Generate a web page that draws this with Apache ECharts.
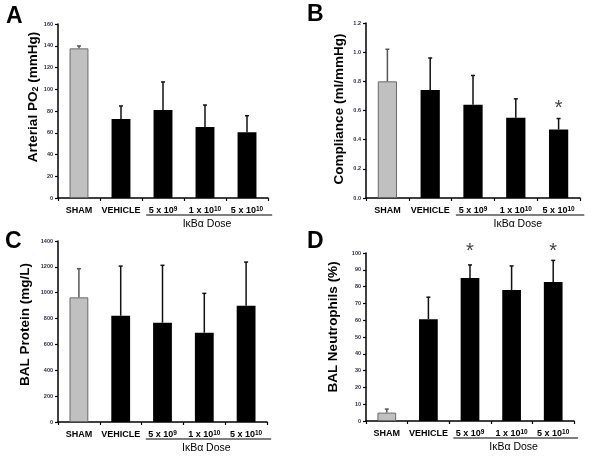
<!DOCTYPE html>
<html><head><meta charset="utf-8">
<script src="https://cdn.jsdelivr.net/npm/echarts@6/dist/echarts.min.js"></script>
<style>html,body{margin:0;padding:0;background:#fff}#c{width:600px;height:460px}</style>
</head><body><div id="c"></div>
<script>
// ---- data ----
const categories = ['SHAM', 'VEHICLE', '5 x 10^9', '1 x 10^10', '5 x 10^10'];
const doseLabel = 'IκBα Dose';
const panelLetters = ['A', 'B', 'C', 'D'];
const yTitles = ['Arterial PO{sub|2} (mmHg)', 'Compliance (ml/mmHg)', 'BAL Protein (mg/L)', 'BAL Neutrophils (%)'];
const poMean = [137.6, 72.6, 80.9, 65.3, 60.4];
const poErrTop = [139.8, 84.6, 106.7, 85.5, 75.7];
const complianceMean = [0.80, 0.74, 0.64, 0.55, 0.47];
const complianceErrTop = [1.02, 0.96, 0.84, 0.68, 0.545];
const proteinMean = [964, 822, 768, 691, 900];
const proteinErrTop = [1186, 1206, 1212, 995, 1237];
const neutroMean = [5.0, 60.6, 85.1, 78.0, 82.8];
const neutroErrTop = [7.1, 73.7, 92.9, 92.3, 95.6];
const poStars = [];
const complianceStars = [[4, 0.645]];
const proteinStars = [];
const neutroStars = [[2, 104], [4, 104]];
const yMax = [160, 1.2, 1400, 100];
const yStep = [20, 0.2, 200, 10];
const yDecimals = [0, 1, 0, 0];

// ---- layout / style ----
const means = [poMean, complianceMean, proteinMean, neutroMean];
const errTops = [poErrTop, complianceErrTop, proteinErrTop, neutroErrTop];
const stars = [poStars, complianceStars, proteinStars, neutroStars];
const grids = [
  {left: 58, top: 24, width: 210, height: 174},
  {left: 366, top: 23, width: 214, height: 175},
  {left: 58, top: 241, width: 209, height: 181},
  {left: 366, top: 253, width: 208, height: 168}
];
const nameGaps = [12.5, 20, 26, 26];
const nameShift = [28, 3, 14, 20];
const letterPos = [[6, 16.5], [307, 15], [5, 242], [307, 241.5]];
const FONT = '"Liberation Sans", Arial, Helvetica, sans-serif';

const chart = echarts.init(document.getElementById('c'), null, {renderer: 'canvas'});

function errRender(params, api) {
  const x = api.value(0), m = api.value(1), t = api.value(2);
  const p1 = api.coord([x, m]), p2 = api.coord([x, t]);
  const col = x === 0 ? '#555' : '#111';
  return {type: 'group', children: [
    {type: 'line', shape: {x1: p1[0], y1: p1[1], x2: p2[0], y2: p2[1]}, style: {stroke: col, lineWidth: 1.5}},
    {type: 'line', shape: {x1: p2[0] - 2, y1: p2[1], x2: p2[0] + 2, y2: p2[1]}, style: {stroke: col, lineWidth: 1.5}}
  ]};
}
function starRender(params, api) {
  const p = api.coord([api.value(0), api.value(1)]);
  return {type: 'text', style: {text: '*', x: p[0], y: p[1] + 5, fill: '#444', font: '20px ' + FONT, textAlign: 'center', textVerticalAlign: 'middle'}};
}

const xAxes = [], yAxes = [], series = [];
for (let i = 0; i < 4; i++) {
  xAxes.push({
    type: 'category', gridIndex: i, data: categories,
    axisLine: {lineStyle: {color: '#000', width: 1.5}},
    axisTick: {show: true, length: 3, lineStyle: {color: '#000', width: 1.2}},
    axisLabel: {
      interval: 0, margin: 8, color: '#000', fontSize: 9, fontWeight: 'bold', fontFamily: FONT,
      formatter: v => v.replace(/\^(\d+)/, '{s|$1}'),
      rich: {s: {fontSize: 6.5, fontWeight: 'bold', fontFamily: FONT, color: '#000', verticalAlign: 'top', lineHeight: 6}}
    }
  });
  yAxes.push({
    type: 'value', gridIndex: i, min: 0, max: yMax[i], interval: yStep[i],
    splitLine: {show: false},
    axisLine: {show: true, lineStyle: {color: '#000', width: 1.5}},
    axisTick: {show: true, length: 3, lineStyle: {color: '#000', width: 1.2}},
    axisLabel: {margin: 5, fontSize: 5.5, fontWeight: 'bold', color: '#2b3040', fontFamily: FONT,
      formatter: v => v.toFixed(yDecimals[i])},
    name: yTitles[i], nameLocation: 'middle', nameGap: nameGaps[i],
    nameTextStyle: {fontSize: 13.5, fontWeight: 'bold', color: '#000', fontFamily: FONT,
      padding: [0, 0, 0, nameShift[i]],
      rich: {sub: {fontSize: 9, fontWeight: 'bold', color: '#000', fontFamily: FONT, verticalAlign: 'bottom', lineHeight: 9}}}
  });
  series.push({
    type: 'bar', xAxisIndex: i, yAxisIndex: i, barWidth: '45%',
    data: means[i].map((v, k) => ({value: v, itemStyle: k === 0 ? {color: '#c0c0c0', borderColor: '#6a6a6a', borderWidth: 1} : {color: '#000'}}))
  });
  series.push({
    type: 'custom', xAxisIndex: i, yAxisIndex: i, z: 5, renderItem: errRender,
    encode: {x: 0, y: [1, 2]},
    data: means[i].map((v, k) => [k, v, errTops[i][k]])
  });
  if (stars[i].length) {
    series.push({type: 'custom', xAxisIndex: i, yAxisIndex: i, z: 6, renderItem: starRender, clip: false,
      encode: {x: 0, y: 1}, data: stars[i]});
  }
}

chart.setOption({
  animation: false,
  backgroundColor: '#fff',
  grid: grids,
  xAxis: xAxes,
  yAxis: yAxes,
  series: series
});

// Dose annotation (underline + label) and panel letters, placed from the axes' own scale
const graphics = [];
for (let i = 0; i < 4; i++) {
  const c2 = chart.convertToPixel({xAxisIndex: i}, categories[2]);
  const c3 = chart.convertToPixel({xAxisIndex: i}, categories[3]);
  const c4 = chart.convertToPixel({xAxisIndex: i}, categories[4]);
  const bw = c3 - c2;
  const y0 = chart.convertToPixel({yAxisIndex: i}, 0);
  graphics.push({type: 'line', shape: {x1: c2 - bw * 0.4, y1: y0 + 17, x2: c4 + bw * 0.6, y2: y0 + 17}, style: {stroke: '#000', lineWidth: 1.2}});
  graphics.push({type: 'text', x: c3 + 2, y: y0 + 26, style: {text: doseLabel, fill: '#000', font: '10.5px ' + FONT, textAlign: 'center', textVerticalAlign: 'middle'}});
  graphics.push({type: 'text', x: letterPos[i][0], y: letterPos[i][1], style: {text: panelLetters[i], fill: '#000', font: 'bold 23px ' + FONT, textAlign: 'left', textVerticalAlign: 'middle'}});
}
chart.setOption({graphic: graphics});
</script>
</body></html>
